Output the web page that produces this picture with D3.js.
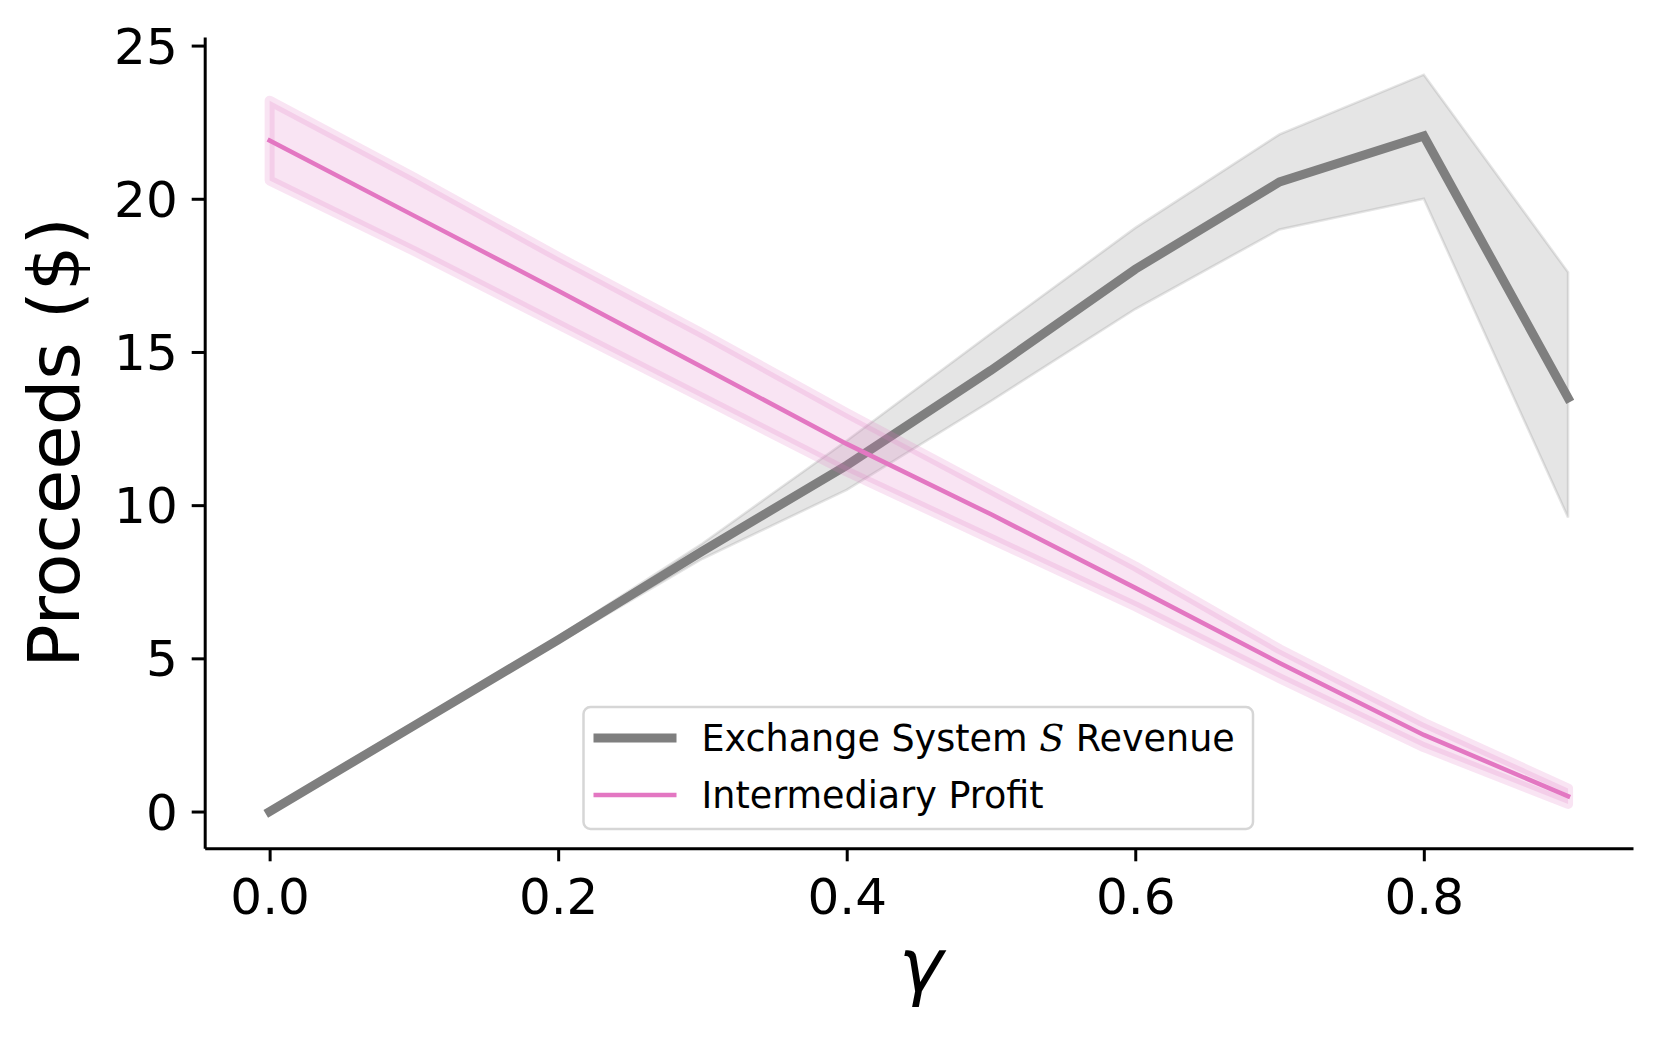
<!DOCTYPE html>
<html lang="en">
<head>
    <meta charset="UTF-8">
    <title>Proceeds vs gamma</title>
    <script src="https://d3js.org/d3.v7.min.js"></script>
    <style>
        body { margin: 0; background: #fff; }
        text { font-family: "DejaVu Sans", sans-serif; fill: #000; }
        .axis path, .axis line { stroke: #000; stroke-width: 3; }
    </style>
</head>
<body>
    <div id="plot"></div>

    <script>
        function translate(x, y){
            return 'translate(' + x + ', ' + y + ')';
        }

        // data
        let gammas = [0.0, 0.1, 0.2, 0.3, 0.4, 0.5, 0.6, 0.7, 0.8, 0.9];

        let revenue      = [0.0, 2.8, 5.6, 8.5, 11.3, 14.4, 17.7, 20.55, 22.05, 13.5];
        let revenueUpper = [0.0, 2.85, 5.7, 8.75, 12.1, 15.6, 19.05, 22.1, 24.05, 17.6];
        let revenueLower = [0.0, 2.75, 5.5, 8.25, 10.5, 13.4, 16.4, 19.0, 20.0, 9.6];

        let profit      = [21.9, 19.45, 17.0, 14.5, 12.0, 9.7, 7.3, 4.85, 2.5, 0.5];
        let profitUpper = [23.2, 20.7, 18.1, 15.6, 13.0, 10.5, 8.0, 5.3, 2.9, 0.75];
        let profitLower = [20.6, 18.3, 15.9, 13.5, 11.1, 8.9, 6.7, 4.35, 2.1, 0.25];

        let xTicks = [0.0, 0.2, 0.4, 0.6, 0.8];
        let yTicks = [0, 5, 10, 15, 20, 25];

        let grey = '#7f7f7f';
        let pink = '#e377c2';

        let svgWidth = 1659;
        let svgHeight = 1037;
        let margin = {top: 37, left: 204.7};
        let width = 1633 - margin.left;
        let height = 848.3 - margin.top;

        let svg = d3.select('#plot')
                    .append('svg')
                        .attr('width', svgWidth)
                        .attr('height', svgHeight);

        svg.append('rect')
            .attr('width', svgWidth)
            .attr('height', svgHeight)
            .attr('fill', '#fff');

        let g = svg.append('g')
                    .attr('transform', translate(margin.left, margin.top));

        let x = d3.scaleLinear()
                    .domain([-0.045, 0.945])
                    .range([0, width]);
        let y = d3.scaleLinear()
                    .domain([-1.2, 25.28])
                    .range([height, 0]);

        function rows(mid, lo, hi){
            return gammas.map((gm, i) => ({g: gm, v: mid[i], lo: lo[i], hi: hi[i]}));
        }
        let revRows = rows(revenue, revenueLower, revenueUpper);
        let proRows = rows(profit, profitLower, profitUpper);

        let area = d3.area()
                    .x(d => x(d.g))
                    .y0(d => y(d.lo))
                    .y1(d => y(d.hi));
        let line = d3.line()
                    .x(d => x(d.g))
                    .y(d => y(d.v));

        // grey band + line
        g.append('path')
            .attr('d', area(revRows))
            .attr('fill', grey)
            .attr('fill-opacity', 0.2)
            .attr('stroke', grey)
            .attr('stroke-opacity', 0.2)
            .attr('stroke-width', 2.5);

        g.append('path')
            .attr('d', line(revRows))
            .attr('fill', 'none')
            .attr('stroke', grey)
            .attr('stroke-width', 9)
            .attr('stroke-linecap', 'square');

        // pink band + line
        g.append('path')
            .attr('d', area(proRows))
            .attr('fill', pink)
            .attr('fill-opacity', 0.2)
            .attr('stroke', pink)
            .attr('stroke-opacity', 0.2)
            .attr('stroke-width', 10)
            .attr('stroke-linejoin', 'round');

        g.append('path')
            .attr('d', line(proRows))
            .attr('fill', 'none')
            .attr('stroke', pink)
            .attr('stroke-width', 4.5)
            .attr('stroke-linecap', 'square');

        // axes
        let xAxis = d3.axisBottom(x)
                        .tickValues(xTicks)
                        .tickFormat(d3.format('.1f'))
                        .tickSize(13)
                        .tickSizeOuter(0)
                        .tickPadding(17);
        let yAxis = d3.axisLeft(y)
                        .tickValues(yTicks)
                        .tickFormat(d3.format('d'))
                        .tickSize(13)
                        .tickSizeOuter(0)
                        .tickPadding(14);

        g.append('g')
            .attr('class', 'axis')
            .attr('transform', translate(0, height))
            .call(xAxis)
            .selectAll('text')
                .attr('font-size', 50)
                .style('font-family', '"DejaVu Sans", sans-serif')
                .attr('fill', '#000');

        g.append('g')
            .attr('class', 'axis')
            .call(yAxis)
            .selectAll('text')
                .attr('font-size', 50)
                .attr('dy', '0.35em')
                .style('font-family', '"DejaVu Sans", sans-serif')
                .attr('fill', '#000');

        // axis labels
        svg.append('text')
            .attr('x', 921)
            .attr('y', 991)
            .attr('text-anchor', 'middle')
            .attr('font-size', 75)
            .attr('font-style', 'italic')
            .text('γ');

        svg.append('text')
            .attr('transform', translate(79, 442.5) + ' rotate(-90)')
            .attr('text-anchor', 'middle')
            .attr('font-size', 72)
            .text('Proceeds ($)');

        // legend
        let legend = svg.append('g')
                        .attr('transform', translate(583.5, 707));

        legend.append('rect')
            .attr('width', 669.5)
            .attr('height', 122)
            .attr('rx', 7)
            .attr('fill', '#fff')
            .attr('fill-opacity', 0.8)
            .attr('stroke', '#d6d6d6')
            .attr('stroke-width', 2.5);

        let legendItems = [
            {color: grey, w: 9},
            {color: pink, w: 4.5}
        ];
        let legendRowY = [31, 88];

        legend.selectAll('line')
            .data(legendItems)
            .join('line')
            .attr('x1', 10)
            .attr('x2', 93)
            .attr('y1', (d, i) => legendRowY[i])
            .attr('y2', (d, i) => legendRowY[i])
            .attr('stroke', d => d.color)
            .attr('stroke-width', d => d.w);

        let t1 = legend.append('text')
                    .attr('x', 118)
                    .attr('y', legendRowY[0] + 13)
                    .attr('font-size', 36.5);
        t1.append('tspan').text('Exchange System ');
        t1.append('tspan')
            .style('font-family', '"DejaVu Serif", serif')
            .attr('font-style', 'italic')
            .text('S');
        t1.append('tspan').text(' Revenue');

        legend.append('text')
            .attr('x', 118)
            .attr('y', legendRowY[1] + 13)
            .attr('font-size', 36.5)
            .text('Intermediary Profit');
    </script>
</body>
</html>
